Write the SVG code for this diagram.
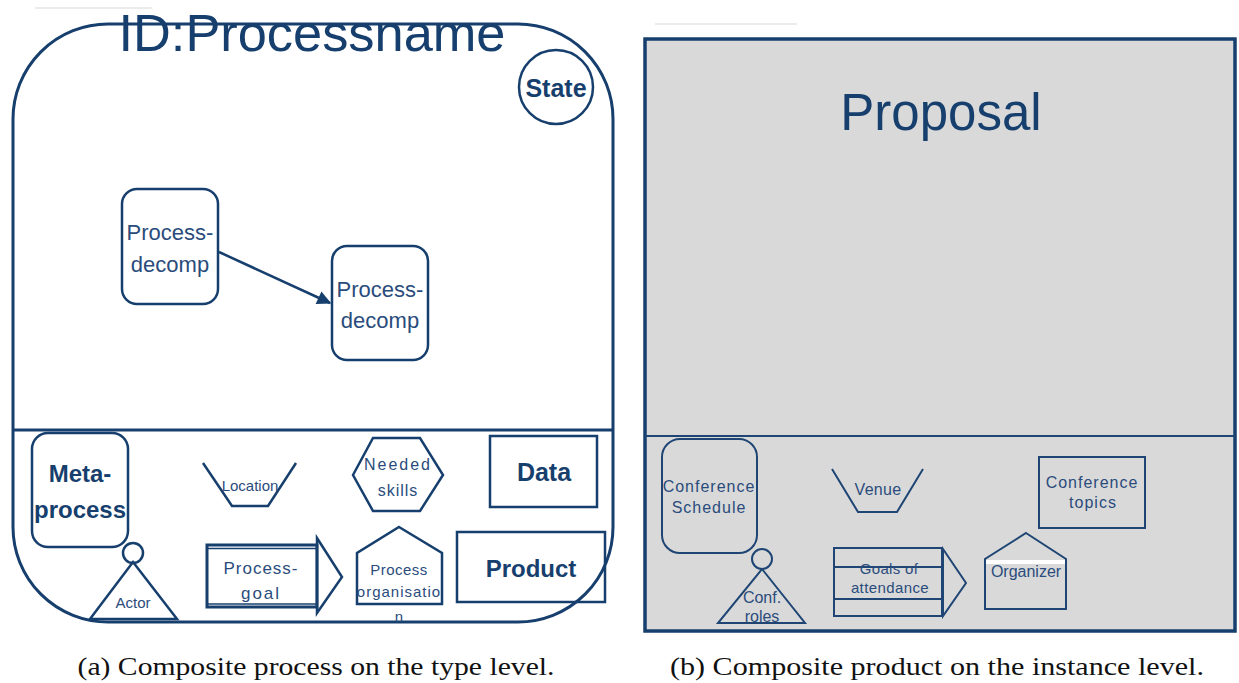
<svg xmlns="http://www.w3.org/2000/svg" width="1239" height="683" viewBox="0 0 1239 683">
<defs>
<style>
.ln{fill:none;stroke:#173f6e;stroke-width:2.5}
.nd{fill:none;stroke:#173f6e;stroke-width:2.5}
.ndr{fill:none;stroke:#1e4574;stroke-width:2}
.t{font-family:"Liberation Sans",Arial,sans-serif;fill:#2a4c7c;text-anchor:middle}
.b{font-family:"Liberation Sans",Arial,sans-serif;fill:#173f6e;text-anchor:middle;font-weight:bold}
.cap{font-family:"Liberation Serif","Times New Roman",serif;fill:#111;font-size:26px;text-anchor:middle}
</style>
<marker id="ah" viewBox="0 0 10 10" refX="9" refY="5" markerWidth="16" markerHeight="14" markerUnits="userSpaceOnUse" orient="auto">
<path d="M0,0 L10,5 L0,10 z" fill="#173f6e"/>
</marker>
</defs>
<rect width="1239" height="683" fill="#fff"/>
<line x1="35" y1="8" x2="152" y2="8" stroke="#e4e4e4" stroke-width="1.5"/>
<line x1="655" y1="24" x2="797" y2="24" stroke="#e4e4e4" stroke-width="1.5"/>

<!-- Left panel -->
<g id="composite-process">
<rect x="13" y="24" width="600" height="598" rx="95" ry="95" fill="#fff" stroke="#173f6e" stroke-width="3"/>
<line x1="13" y1="430" x2="613" y2="430" stroke="#173f6e" stroke-width="3"/>
<text x="312" y="51" style="font-family:'Liberation Sans',Arial,sans-serif;font-size:52px;fill:#173f6e" text-anchor="middle" textLength="387" lengthAdjust="spacingAndGlyphs">ID:Processname</text>
</g>
<g id="state">
<circle cx="556" cy="87" r="37" fill="#fff" stroke="#173f6e" stroke-width="2.5"/>
<text class="b" x="556" y="97" font-size="25">State</text>
</g>
<g id="decomp1">
<rect class="nd" x="122" y="189" width="96" height="115" rx="15"/>
<text class="t" x="170" y="240" font-size="22">Process-</text>
<text class="t" x="170" y="272" font-size="22">decomp</text>
</g>
<g id="decomp2">
<rect class="nd" x="332" y="246" width="96" height="114" rx="15"/>
<text class="t" x="380" y="297" font-size="22">Process-</text>
<text class="t" x="380" y="328" font-size="22">decomp</text>
</g>
<g id="connectors">
<line x1="219" y1="252" x2="330" y2="303" stroke="#173f6e" stroke-width="2.5" marker-end="url(#ah)"/>
</g>
<g id="metaprocess">
<rect class="nd" x="32" y="433" width="96" height="114" rx="16"/>
<text class="b" x="80" y="482" font-size="24">Meta-</text>
<text class="b" x="80" y="518" font-size="24">process</text>
</g>
<g id="actor">
<circle class="nd" cx="133" cy="553" r="10" fill="#fff"/>
<path class="nd" d="M133,562 L177,619 L90,619 Z"/>
<text class="t" x="133" y="608" font-size="15">Actor</text>
</g>
<g id="location">
<path class="nd" d="M203,463 L232,506 L268,506 L296,463"/>
<text class="t" x="250" y="491" font-size="15">Location</text>
</g>
<g id="processgoal">
<rect x="207" y="545" width="110" height="62" fill="none" stroke="#173f6e" stroke-width="3"/>
<line x1="207" y1="548.5" x2="317" y2="548.5" stroke="#173f6e" stroke-width="1.5"/>
<line x1="207" y1="604" x2="317" y2="604" stroke="#173f6e" stroke-width="1.5"/>
<path class="nd" d="M317,538 L342,577 L317,613 Z"/>
<text class="t" x="261" y="574" font-size="17" letter-spacing="1">Process-</text>
<text class="t" x="261" y="599" font-size="17" letter-spacing="2">goal</text>
</g>
<g id="neededskills">
<path class="nd" d="M353,475 L373,438 L420,438 L443,475 L420,511 L373,511 Z"/>
<text class="t" x="398" y="470" font-size="16" letter-spacing="2">Needed</text>
<text class="t" x="398" y="496" font-size="16" letter-spacing="1">skills</text>
</g>
<g id="processorganisation">
<path class="nd" d="M399,527 L442,553 L442,604 L357,604 L357,553 Z"/>
<text class="t" x="399" y="575" font-size="15" letter-spacing="0.5">Process</text>
<text class="t" x="399" y="597" font-size="15" letter-spacing="1">organisatio</text>
<text class="t" x="399" y="622" font-size="15">n</text>
</g>
<g id="data">
<rect class="nd" x="490" y="436" width="107" height="71" fill="#fff"/>
<text class="b" x="544" y="481" font-size="25">Data</text>
</g>
<g id="product">
<rect class="nd" x="457" y="532" width="148" height="70" fill="#fff"/>
<text class="b" x="531" y="577" font-size="24">Product</text>
</g>

<!-- Right panel -->
<g id="composite-product">
<rect x="645" y="39" width="590" height="592" fill="#d9d9d9" stroke="#173f6e" stroke-width="3.5"/>
<line x1="645" y1="436" x2="1235" y2="436" stroke="#1e4574" stroke-width="2"/>
<text x="941" y="130" style="font-family:'Liberation Sans',Arial,sans-serif;font-size:51px;fill:#173f6e" text-anchor="middle">Proposal</text>
</g>
<g id="conferenceschedule">
<rect class="ndr" x="662" y="439" width="95" height="114" rx="18" stroke-width="2.5"/>
<text class="t" x="709" y="492" font-size="16" letter-spacing="1">Conference</text>
<text class="t" x="709" y="513" font-size="16" letter-spacing="1">Schedule</text>
</g>
<g id="confroles">
<circle class="ndr" cx="762" cy="559" r="10"/>
<path class="ndr" d="M762,569 L805,623 L718,623 Z"/>
<text class="t" x="762" y="603" font-size="16">Conf.</text>
<text class="t" x="762" y="622" font-size="16">roles</text>
</g>
<g id="venue">
<path class="ndr" d="M832,469 L858,512 L897,512 L923,469"/>
<text class="t" x="878" y="495" font-size="16" letter-spacing="0.3">Venue</text>
</g>
<g id="goalsofattendance">
<rect class="ndr" x="834" y="548" width="108" height="68"/>
<line x1="834" y1="567" x2="942" y2="567" stroke="#1e4574" stroke-width="2"/>
<line x1="834" y1="599" x2="942" y2="599" stroke="#1e4574" stroke-width="2"/>
<path class="ndr" d="M943,549 L966,583 L943,616 Z"/>
<text class="t" x="889" y="574" font-size="15" letter-spacing="0.3">Goals of</text>
<text class="t" x="890" y="593" font-size="15" letter-spacing="0.4">attendance</text>
</g>
<g id="conferencetopics">
<rect class="ndr" x="1039" y="457" width="106" height="71" stroke-width="2.5"/>
<text class="t" x="1092" y="488" font-size="16" letter-spacing="1">Conference</text>
<text class="t" x="1093" y="508" font-size="16" letter-spacing="1">topics</text>
</g>
<g id="organizer">
<path class="ndr" d="M1026,533 L1066,559 L1066,609 L985,609 L985,559 Z"/>
<rect x="986" y="560" width="79" height="4" fill="#fff"/>
<text class="t" x="1026" y="577" font-size="16">Organizer</text>
</g>

<!-- Captions -->
<text class="cap" x="316" y="675" textLength="477" lengthAdjust="spacingAndGlyphs">(a) Composite process on the type level.</text>
<text class="cap" x="937" y="675" textLength="534" lengthAdjust="spacingAndGlyphs">(b) Composite product on the instance level.</text>
</svg>
